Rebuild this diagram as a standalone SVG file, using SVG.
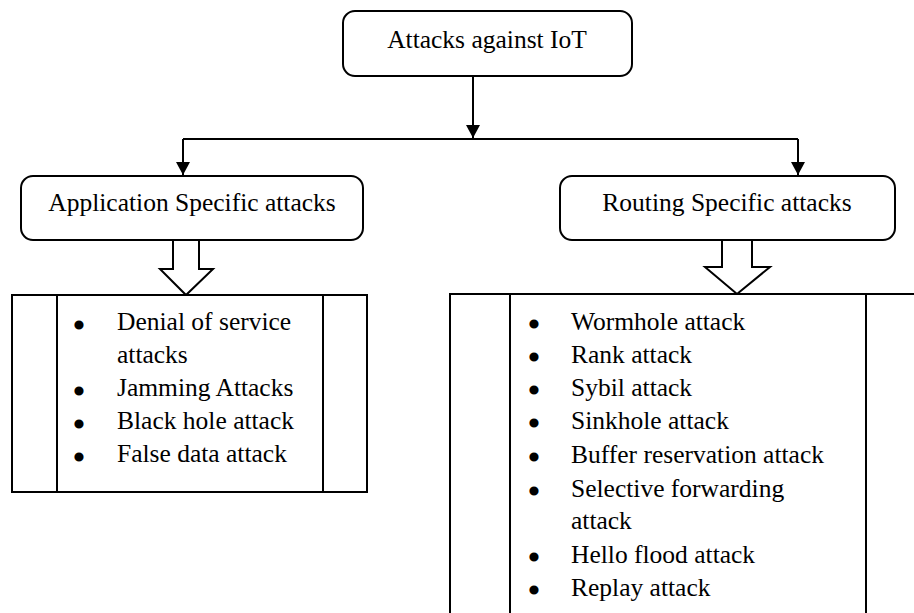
<svg xmlns="http://www.w3.org/2000/svg" width="914" height="613" viewBox="0 0 914 613">
  <defs>
    <marker id="tip" markerUnits="userSpaceOnUse" markerWidth="13" markerHeight="14" refX="13" refY="7" orient="auto" viewBox="0 0 13 14">
      <path d="M0,0 L13,7 L0,14 Z" fill="#000"/>
    </marker>
    <style>
      .box { fill: #fff; stroke: #000; stroke-width: 2; }
      .line { fill: none; stroke: #000; stroke-width: 2; }
      .title { font-family: "Liberation Serif", "Times New Roman", serif; font-size: 25.5px; fill: #000; text-anchor: middle; }
      .item { font-family: "Liberation Serif", "Times New Roman", serif; font-size: 25.5px; fill: #000; }
      .dot { font-family: "Liberation Serif", "Times New Roman", serif; font-size: 25.5px; fill: #000; stroke: #000; stroke-width: 3; stroke-linejoin: round; text-anchor: middle; }
    </style>
  </defs>
  <rect width="914" height="613" fill="#fff"/>

  <!-- connectors -->
  <g id="connectors">
    <path class="line" d="M473,76 V138" marker-end="url(#tip)"/>
    <path class="line" d="M183,139 H798"/>
    <path class="line" d="M183,139 V175" marker-end="url(#tip)"/>
    <path class="line" d="M798,139 V175" marker-end="url(#tip)"/>
    <!-- hollow block arrows -->
    <path class="box" d="M173,240 V269 H160 L186,295 L213,269 H199 V240"/>
    <path class="box" d="M722,240 V267 H705 L737,294 L770,267 H752 V240"/>
  </g>

  <!-- root node -->
  <g id="root">
    <rect class="box" x="343" y="11" width="289" height="65" rx="12"/>
    <text class="title" x="487" y="48">Attacks against IoT</text>
  </g>

  <!-- category nodes -->
  <g id="application">
    <rect class="box" x="21" y="176" width="342" height="64" rx="12"/>
    <text class="title" x="192" y="211">Application Specific attacks</text>
  </g>
  <g id="routing">
    <rect class="box" x="560" y="176" width="335" height="64" rx="12"/>
    <text class="title" x="727" y="211">Routing Specific attacks</text>
  </g>

  <!-- application attack list -->
  <g id="application-list">
    <rect class="box" x="12" y="295" width="355" height="197"/>
    <path class="line" d="M57,295 V492 M323,295 V492"/>
    <g class="dot">
      <text x="79" y="334">•</text>
      <text x="79" y="400">•</text>
      <text x="79" y="433">•</text>
      <text x="79" y="466">•</text>
    </g>
    <g class="item">
      <text x="117" y="330">Denial of service</text>
      <text x="117" y="363">attacks</text>
      <text x="117" y="396">Jamming Attacks</text>
      <text x="117" y="429">Black hole attack</text>
      <text x="117" y="462">False data attack</text>
    </g>
  </g>

  <!-- routing attack list -->
  <g id="routing-list">
    <rect class="box" x="450" y="294" width="480" height="340"/>
    <path class="line" d="M510,294 V613 M866,294 V613"/>
    <g class="dot">
      <text x="534" y="333">•</text>
      <text x="534" y="366">•</text>
      <text x="534" y="399">•</text>
      <text x="534" y="432">•</text>
      <text x="534" y="466">•</text>
      <text x="534" y="500">•</text>
      <text x="534" y="566">•</text>
      <text x="534" y="599">•</text>
    </g>
    <g class="item">
      <text x="571" y="330">Wormhole attack</text>
      <text x="571" y="363">Rank attack</text>
      <text x="571" y="396">Sybil attack</text>
      <text x="571" y="429">Sinkhole attack</text>
      <text x="571" y="463">Buffer reservation attack</text>
      <text x="571" y="497">Selective forwarding</text>
      <text x="571" y="529">attack</text>
      <text x="571" y="563">Hello flood attack</text>
      <text x="571" y="596">Replay attack</text>
    </g>
  </g>
</svg>
